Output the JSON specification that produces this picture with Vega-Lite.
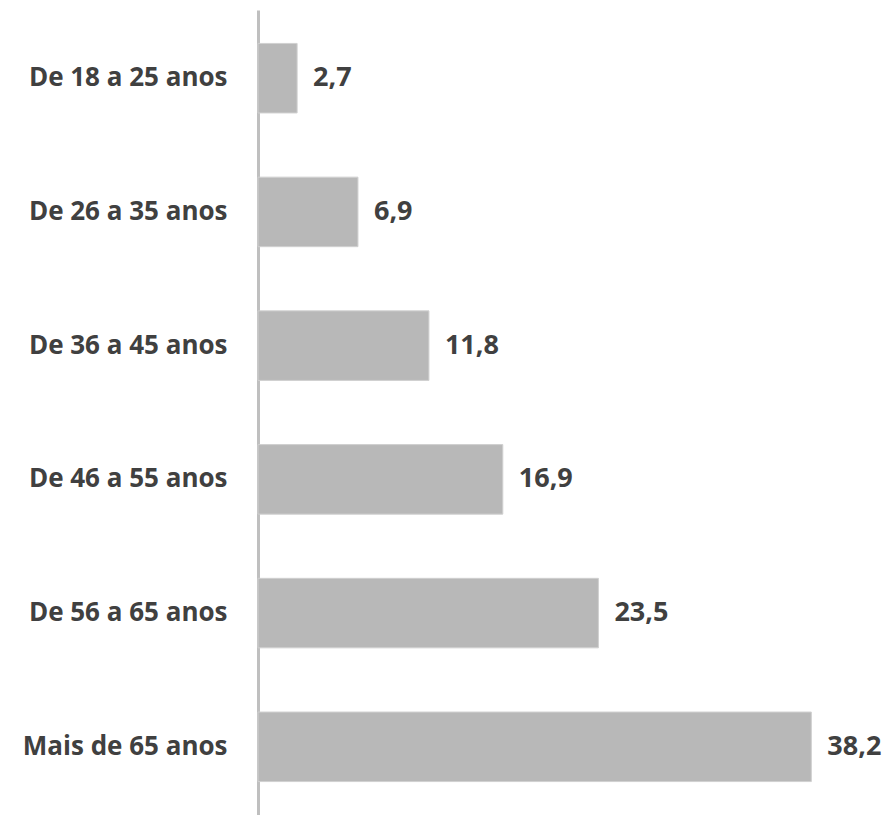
{
  "$schema": "https://vega.github.io/schema/vega-lite/v6.json",
  "width": 633,
  "height": 805,
  "autosize": {"type": "none"},
  "padding": {"left": 258, "top": 10, "right": 0, "bottom": 0},
  "background": "white",
  "config": {"view": {"stroke": null}},
  "data": {"values": [
    {"faixa": "De 18 a 25 anos", "valor": 2.7, "rotulo": "2,7"},
    {"faixa": "De 26 a 35 anos", "valor": 6.9, "rotulo": "6,9"},
    {"faixa": "De 36 a 45 anos", "valor": 11.8, "rotulo": "11,8"},
    {"faixa": "De 46 a 55 anos", "valor": 16.9, "rotulo": "16,9"},
    {"faixa": "De 56 a 65 anos", "valor": 23.5, "rotulo": "23,5"},
    {"faixa": "Mais de 65 anos", "valor": 38.2, "rotulo": "38,2"}
  ]},
  "encoding": {
    "y": {"field": "faixa", "type": "nominal", "sort": null,
      "scale": {"paddingInner": 0.48, "paddingOuter": 0.25},
      "axis": {"title": null, "ticks": false, "domainColor": "#bfbfbf", "domainWidth": 3,
        "labelFont": "Open Sans", "labelFontSize": 26, "labelFontWeight": "bold",
        "labelColor": "#404040", "labelPadding": 31, "labelLimit": 400}},
    "x": {"field": "valor", "type": "quantitative", "scale": {"domain": [0, 43.7], "nice": false}, "axis": null}
  },
  "layer": [
    {"mark": {"type": "bar", "color": "#b8b8b8", "stroke": "#d0d0d0", "strokeWidth": 1}},
    {"mark": {"type": "text", "align": "left", "baseline": "middle", "dx": 16,
      "font": "Open Sans", "fontSize": 27, "fontWeight": "bold", "color": "#404040"},
     "encoding": {"text": {"field": "rotulo"}}}
  ]
}
